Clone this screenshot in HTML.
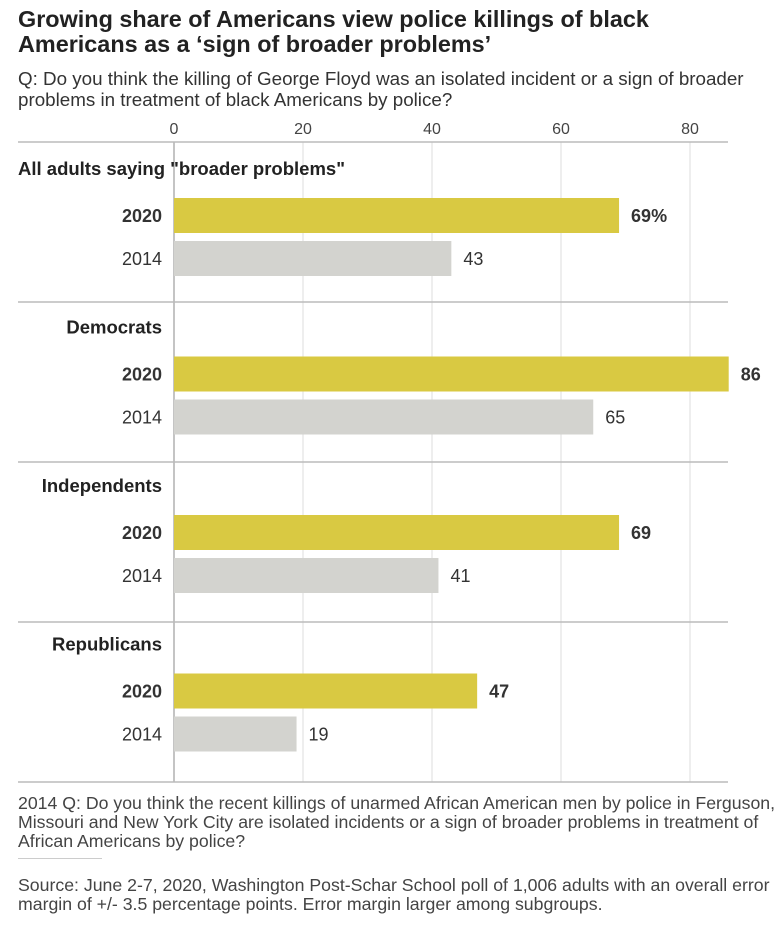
<!DOCTYPE html>
<html><head><meta charset="utf-8"><style>
body{margin:0;background:#fff;font-family:"Liberation Sans",sans-serif;color:#222}
#w{position:relative;width:779px;height:930px;overflow:hidden}
.t{position:absolute;left:18px;top:7px;font-size:23.4px;font-weight:bold;line-height:25px;color:#222;white-space:nowrap}
.s{position:absolute;left:18px;top:68px;font-size:18.8px;line-height:21px;color:#333;white-space:nowrap}
.n{position:absolute;left:18px;font-size:17.7px;line-height:19px;color:#444;white-space:nowrap}
</style></head><body><div id="w">
<div class="t">Growing share of Americans view police killings of black<br>Americans as a ‘sign of broader problems’</div>
<div class="s">Q: Do you think the killing of George Floyd was an isolated incident or a sign of broader<br>problems in treatment of black Americans by police?</div>
<svg id="c" width="779" height="800" style="position:absolute;left:0;top:0"></svg>
<div class="n" style="top:794px">2014 Q: Do you think the recent killings of unarmed African American men by police in Ferguson,<br>Missouri and New York City are isolated incidents or a sign of broader problems in treatment of<br>African Americans by police?</div>
<div style="position:absolute;left:18px;top:858px;width:84px;height:1px;background:#ccc"></div>
<div class="n" style="top:876px">Source: June 2-7, 2020, Washington Post-Schar School poll of 1,006 adults with an overall error<br>margin of +/- 3.5 percentage points. Error margin larger among subgroups.</div>
</div>
<script>
const groups=["All adults saying \"broader problems\"","Democrats","Independents","Republicans"];
const v2020=[69,86,69,47];
const v2014=[43,65,41,19];
const ticks=[0,20,40,60,80];
const svg=document.getElementById('c');const NS='http://www.w3.org/2000/svg';
const x=v=>174+v*6.45;
function mk(t,a,txt){const e=document.createElementNS(NS,t);for(const k in a)e.setAttribute(k,a[k]);if(txt!=null)e.textContent=txt;svg.appendChild(e);return e;}
ticks.forEach(t=>{
 const l=mk('line',{x1:x(t),x2:x(t),y1:142,y2:782,stroke:t==0?'#888':'#ddd','stroke-width':1});
 
 
 const tx=mk('text',{x:x(t),y:134,'text-anchor':'middle','font-size':16,fill:'#444','font-family':'Liberation Sans'},t);
 
 
});
for(let i=0;i<=4;i++){const l=mk('line',{x1:18,x2:728,y1:142+i*160,y2:142+i*160,stroke:'#bbb','stroke-width':1.5});
 
 }
groups.forEach((g,i)=>{
 const b=142+i*158.5;
 const gl=mk('text',{x:i==0?18:162,y:b+33,'text-anchor':i==0?'start':'end','font-size':18.5,'font-weight':'bold',fill:'#222','font-family':'Liberation Sans'},g);
 
 
 [[v2020[i],'#d9c942','2020',true,b+56],[v2014[i],'#d3d3cf','2014',false,b+99]].forEach(([v,c,yr,bold,y],j)=>{
  const r=mk('rect',{x:x(0),y:y,width:x(v)-x(0),height:35,fill:c});
  
  
  const yl=mk('text',{x:162,y:y+24,'text-anchor':'end','font-size':18,'font-weight':bold?'bold':'normal',fill:'#333','font-family':'Liberation Sans'},yr);
  
  
  const vl=mk('text',{x:x(v)+12,y:y+24,'font-size':18,'font-weight':bold?'bold':'normal',fill:'#333','font-family':'Liberation Sans'},v+(i==0&&j==0?'%':''));
  
  
 });
});
</script></body></html>
